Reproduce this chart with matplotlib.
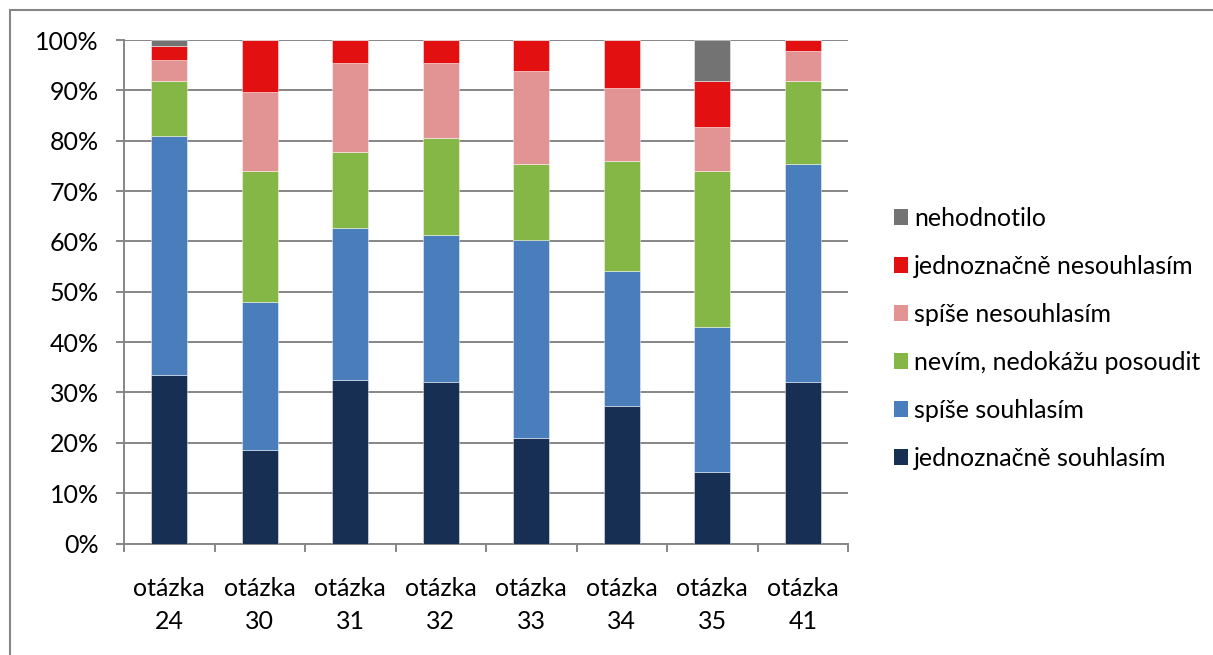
import matplotlib
matplotlib.use("Agg")
import matplotlib.pyplot as plt
from matplotlib.patches import Rectangle, Patch
import numpy as np

plt.rcParams['font.family'] = ['Lato', 'DejaVu Sans']

categories = ["otázka\n24", "otázka\n30", "otázka\n31", "otázka\n32",
              "otázka\n33", "otázka\n34", "otázka\n35", "otázka\n41"]

# share of answers per question (%), stacked bottom to top
jednoznacne_souhlasim = [33.5, 18.5, 32.5, 32.0, 20.9, 27.3, 14.2, 32.1]
spise_souhlasim = [47.4, 29.4, 30.2, 29.3, 39.4, 26.8, 28.8, 43.3]
nevim = [10.9, 26.0, 15.0, 19.2, 15.1, 21.8, 30.9, 16.4]
spise_nesouhlasim = [4.2, 15.8, 17.8, 15.0, 18.5, 14.5, 8.9, 6.1]
jednoznacne_nesouhlasim = [2.8, 10.3, 4.5, 4.5, 6.1, 9.6, 9.0, 2.1]
nehodnotilo = [1.2, 0.0, 0.0, 0.0, 0.0, 0.0, 8.2, 0.0]

series_labels = ["jednoznačně souhlasím", "spíše souhlasím",
                 "nevím, nedokážu posoudit", "spíše nesouhlasím",
                 "jednoznačně nesouhlasím", "nehodnotilo"]
series_values = [jednoznacne_souhlasim, spise_souhlasim, nevim,
                 spise_nesouhlasim, jednoznacne_nesouhlasim, nehodnotilo]
series_colors = ["#162F52", "#4A7DBB", "#84B746", "#E29393", "#E31012", "#737373"]

W, H = 1213, 655
fig = plt.figure(figsize=(W / 100, H / 100), dpi=100)
ax = fig.add_axes([124 / W, 1 - 543.5 / H, (848 - 124) / W, (543.5 - 40) / H])

grid_c = "#868686"
FS = 18
x = np.arange(len(categories))
bottom = np.zeros(len(categories))
for vals, col, lab in zip(series_values, series_colors, series_labels):
    v = np.array(vals)
    ax.bar(x, v, width=0.4, bottom=bottom, color=col, label=lab,
           edgecolor=(1, 1, 1, 0.45), linewidth=0.7, zorder=3)
    bottom += v

ax.set_xlim(-0.5, len(categories) - 0.5)
ax.set_ylim(0, 100)
ax.set_yticks(np.arange(0, 101, 10))
ax.set_yticklabels([f"{t}%" for t in range(0, 101, 10)])
ax.yaxis.grid(True, color=grid_c, linewidth=1.4, zorder=0)
ax.set_axisbelow(True)

ax.set_xticks(x)
ax.set_xticklabels(categories, linespacing=1.55)
ax.set_xticks(np.arange(-0.5, len(categories)), minor=True)
ax.tick_params(axis='x', which='major', length=0, pad=24, labelsize=FS,
               colors="black")
ax.tick_params(axis='x', which='minor', length=6, width=1.4, color=grid_c)
ax.tick_params(axis='y', length=6, width=1.4, color=grid_c, pad=12,
               labelsize=FS)

for side in ("top", "right"):
    ax.spines[side].set_visible(False)
for side in ("left", "bottom"):
    ax.spines[side].set_color(grid_c)
    ax.spines[side].set_linewidth(1.4)

handles = [Patch(facecolor=c, edgecolor='none') for c in series_colors][::-1]
fig.legend(handles, series_labels[::-1], loc="upper left",
           bbox_to_anchor=(884 / W, 1 - 197 / H), frameon=False,
           fontsize=FS, handlelength=0.58, handleheight=0.58,
           handletextpad=0.22, labelspacing=1.0, borderaxespad=0)

# chart frame
fig.add_artist(Rectangle((10 / W, -0.05), 1.2, 1 - 10 / H + 0.05,
                         transform=fig.transFigure, fill=False,
                         edgecolor=grid_c, linewidth=1.5))

fig.savefig("out.png", dpi=100)
